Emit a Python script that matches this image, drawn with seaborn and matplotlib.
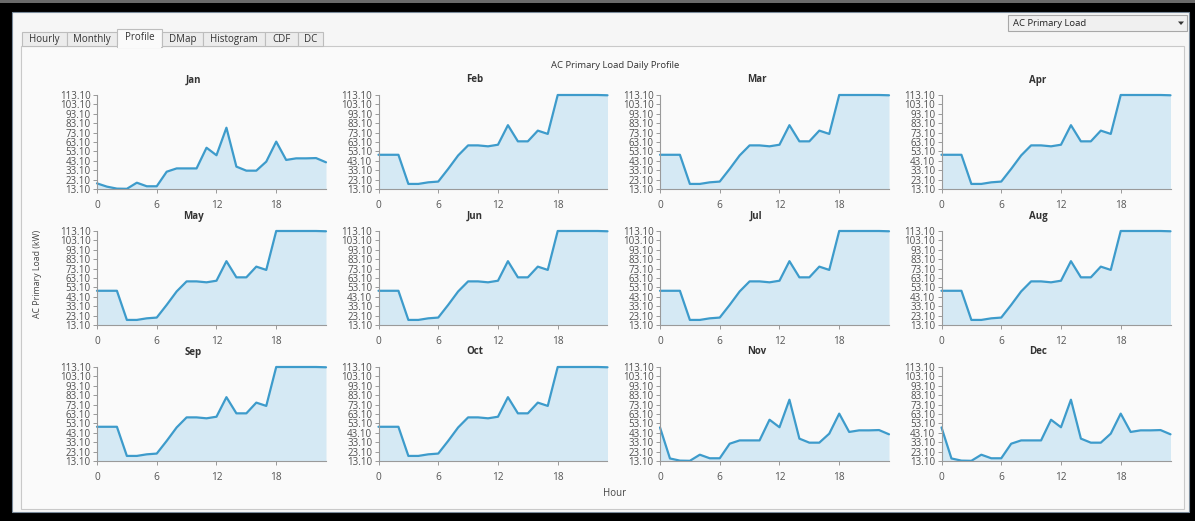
import matplotlib
matplotlib.use("Agg")
import matplotlib.pyplot as plt
from matplotlib.patches import Rectangle, Polygon
import seaborn as sns
import numpy as np

# Hourly load values (kW) for the two seasonal profiles
hours = list(range(24))
jan_load = [19.1, 15.6, 13.5, 13.3, 19.8, 16.0, 16.0, 31.5, 35.0, 35.0, 35.0, 57.0,
            49.0, 78.3, 36.9, 32.6, 32.6, 42.2, 63.5, 44.0, 45.7, 45.7, 46.0, 41.5]
late_winter_load = [48.8, 15.8, 13.5, 13.3, 19.8, 16.0, 16.0, 31.5, 35.0, 35.0, 35.0, 57.0,
                    49.0, 78.3, 36.9, 32.6, 32.6, 42.2, 63.5, 44.0, 45.7, 45.7, 46.0, 41.5]
summer_load = [49.5, 49.5, 49.5, 18.5, 18.5, 20.2, 21.0, 34.5, 48.8, 59.5, 59.5, 58.5,
               60.2, 81.0, 63.8, 63.8, 75.2, 71.7, 113.1, 113.1, 113.1, 113.1, 113.1, 112.8]

months = ["Jan", "Feb", "Mar", "Apr", "May", "Jun",
          "Jul", "Aug", "Sep", "Oct", "Nov", "Dec"]
month_profiles = {
    "Jan": jan_load, "Feb": summer_load, "Mar": summer_load, "Apr": summer_load,
    "May": summer_load, "Jun": summer_load, "Jul": summer_load, "Aug": summer_load,
    "Sep": summer_load, "Oct": summer_load, "Nov": late_winter_load, "Dec": late_winter_load,
}
y_ticks = [13.1, 23.1, 33.1, 43.1, 53.1, 63.1, 73.1, 83.1, 93.1, 103.1, 113.1]
x_ticks = [0, 6, 12, 18]
tabs = ["Hourly", "Monthly", "Profile", "DMap", "Histogram", "CDF", "DC"]

sns.set_theme(style="white")
plt.rcParams["font.family"] = ["Open Sans", "DejaVu Sans"]

W, H = 1195, 521
fig = plt.figure(figsize=(W / 100, H / 100), dpi=100, facecolor="black")


def fx(px):
    return px / W


def fy(py):
    return 1 - py / H


def rect(x0, y0, x1, y1, z=-10, **kw):
    r = Rectangle((fx(x0), fy(y1)), fx(x1) - fx(x0), fy(y0) - fy(y1),
                  transform=fig.transFigure, zorder=z, **kw)
    fig.add_artist(r)
    return r


# window chrome
rect(0, 0, W, 3, facecolor="#6a6a6a", edgecolor="none")
rect(12, 12, 1189, 512, facecolor="#f6f6f6", edgecolor="#7a8a9a", linewidth=0.8)
rect(21, 46, 1184, 509, z=-9, facecolor="#fafafa", edgecolor="#c9c9c9", linewidth=0.8)

# tab strip
tab_edges = [22, 67, 117, 162, 203, 265, 298, 323]
for i, name in enumerate(tabs):
    x0, x1 = tab_edges[i], tab_edges[i + 1]
    if name == "Profile":
        rect(x0, 29, x1, 46.5, z=-8, facecolor="#fafafa", edgecolor="#bdbdbd", linewidth=0.8)
        rect(x0 + 0.6, 45, x1 - 0.6, 47.5, z=-7, facecolor="#fafafa", edgecolor="none")
        ty = 38
    else:
        rect(x0, 32, x1, 46, z=-8, facecolor="#ececec", edgecolor="#bdbdbd", linewidth=0.8)
        ty = 39.5
    fig.text(fx((x0 + x1) / 2), fy(ty), name, ha="center", va="center",
             fontsize=7, color="#333333")

# series selector
rect(1008, 15, 1187, 31, z=-8, facecolor="#f0f0f0", edgecolor="#a8a8a8", linewidth=0.8)
fig.text(fx(1013), fy(23), "AC Primary Load", ha="left", va="center",
         fontsize=6.8, color="#222222")
tri = Polygon([[fx(1178), fy(21.5)], [fx(1184), fy(21.5)], [fx(1181), fy(25)]],
              closed=True, transform=fig.transFigure, facecolor="#333333", edgecolor="none")
fig.add_artist(tri)

# grid of monthly profiles
lefts = [97, 378.5, 660, 941.5]
tops = [95, 231, 367]
aw, ah = 229, 94
line_color = "#3d9bcb"
fill_color = "#d5e9f4"

for idx, month in enumerate(months):
    r, c = divmod(idx, 4)
    left, top = lefts[c], tops[r]
    ax = fig.add_axes([fx(left), fy(top + ah), aw / W, ah / H])
    ax.set_facecolor("none")
    ax.set_zorder(2)
    vals = month_profiles[month]
    ax.fill_between(hours, vals, y_ticks[0], color=fill_color, linewidth=0)
    sns.lineplot(x=hours, y=vals, ax=ax, color=line_color, linewidth=1.6)
    ax.lines[-1].set_clip_on(False)
    ax.set_xlim(0, 23)
    ax.set_ylim(y_ticks[0], y_ticks[-1])
    ax.set_xticks(x_ticks)
    ax.set_yticks(y_ticks)
    ax.set_yticklabels([f"{v:.2f}" for v in y_ticks])
    ax.set_xlabel("")
    ax.set_ylabel("")
    for s in ["top", "right"]:
        ax.spines[s].set_visible(False)
    for s in ["left", "bottom"]:
        ax.spines[s].set_color("#9a9a9a")
        ax.spines[s].set_linewidth(0.8)
    ax.tick_params(axis="y", direction="out", length=3, width=0.7, color="#9a9a9a",
                   labelsize=7, labelcolor="#505050", pad=1.5, left=True)
    ax.tick_params(axis="x", direction="out", length=3, width=0.7, color="#9a9a9a",
                   labelsize=7.3, labelcolor="#555555", pad=5, bottom=True)
    fig.text(fx(left + aw / 2 - 18), fy(top - 15), month, ha="center", va="center",
             fontsize=7, fontweight="bold", color="#333333")

fig.text(fx(615), fy(65), "AC Primary Load Daily Profile", ha="center", va="center",
         fontsize=6.8, color="#333333")
fig.text(fx(615), fy(494), "Hour", ha="center", va="center",
         fontsize=7, color="#444444")
fig.text(fx(37), fy(274), "AC Primary Load (kW)", ha="center", va="center",
         rotation=90, fontsize=6.3, color="#444444")

fig.savefig("out.png", dpi=100, facecolor="black")
